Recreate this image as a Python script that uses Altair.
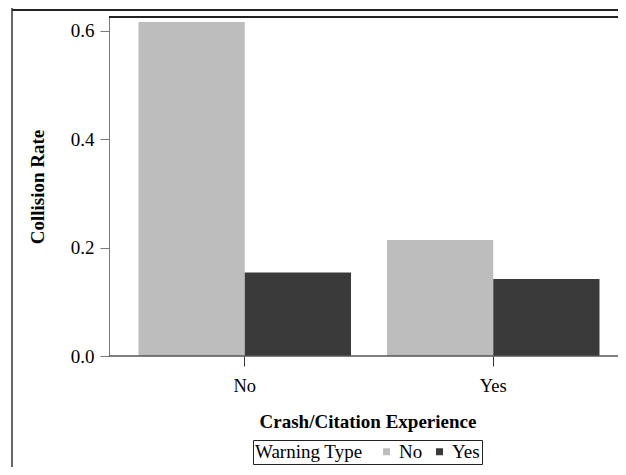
import altair as alt
import pandas as pd

# Data
experience = ["No", "No", "Yes", "Yes"]
warning = ["No", "Yes", "No", "Yes"]
rate = [0.616, 0.154, 0.214, 0.142]

warning_levels = ["No", "Yes"]
warning_colors = ["#bdbdbd", "#3a3a3a"]
y_ticks = [0.0, 0.2, 0.4, 0.6]

df = pd.DataFrame({"Experience": experience, "Warning": warning, "Rate": rate})
one = pd.DataFrame({"k": [0]})

W = 509
H = 339
FONT = "Liberation Serif"

bars = alt.Chart(df).mark_bar().encode(
    x=alt.X(
        "Experience:N",
        scale=alt.Scale(paddingInner=0.1449, paddingOuter=0.0966, align=0.6146),
        axis=alt.Axis(
            title="Crash/Citation Experience",
            labelAngle=0,
            domain=False,
            tickSize=10,
            tickColor="#333333",
            labelPadding=10,
            labelFont=FONT,
            labelFontSize=18.5,
            labelColor="#000000",
            titleFont=FONT,
            titleFontSize=19,
            titleFontWeight="bold",
            titleColor="#000000",
            titleX=258.5,
            titleY=71,
            titleBaseline="alphabetic",
        ),
    ),
    xOffset=alt.XOffset(
        "Warning:N",
        scale=alt.Scale(domain=warning_levels, paddingInner=0, paddingOuter=0),
    ),
    y=alt.Y(
        "Rate:Q",
        scale=alt.Scale(domain=[0, 0.625], nice=False, zero=True),
        axis=alt.Axis(
            title="Collision Rate",
            values=y_ticks,
            format=".1f",
            grid=False,
            domainColor="#7a7a7a",
            tickColor="#7a7a7a",
            tickSize=9,
            labelPadding=6,
            labelFont=FONT,
            labelFontSize=19,
            labelColor="#000000",
            titleFont=FONT,
            titleFontSize=19,
            titleFontWeight="bold",
            titleColor="#000000",
            titleAngle=270,
            titleX=-66,
            titleY=169.5,
            titleBaseline="alphabetic",
        ),
    ),
    color=alt.Color(
        "Warning:N",
        scale=alt.Scale(domain=warning_levels, range=warning_colors),
        legend=alt.Legend(
            title="Warning Type",
            orient="none",
            legendX=144,
            legendY=423,
            direction="horizontal",
            titleOrient="left",
            titleFont=FONT,
            titleFontSize=19,
            titleFontWeight="normal",
            titleColor="#000000",
            titlePadding=14,
            labelFont=FONT,
            labelFontSize=19,
            labelColor="#000000",
            labelOffset=3,
            symbolType="square",
            symbolSize=49,
            symbolStrokeWidth=0,
            columnPadding=7,
            padding=2,
            strokeColor="#222222",
            fillColor="#ffffff",
        ),
    ),
)

# frame lines (pixel positions relative to the plot area)
top_inner = alt.Chart(one).mark_rule(color="#222222", strokeWidth=2).encode(
    x=alt.value(0), x2=alt.value(W + 20), y=alt.value(0)
)
bottom_axis = alt.Chart(one).mark_rule(color="#555555", strokeWidth=1.5).encode(
    x=alt.value(0), x2=alt.value(W + 20), y=alt.value(H)
)
outer_top = alt.Chart(one).mark_rule(color="#222222", strokeWidth=2).encode(
    x=alt.value(-97), x2=alt.value(W + 20), y=alt.value(-7)
)
outer_left = alt.Chart(one).mark_rule(color="#333333", strokeWidth=1.5).encode(
    x=alt.value(-97), y=alt.value(-9), y2=alt.value(H + 120)
)

chart = (
    alt.layer(bars, top_inner, bottom_axis, outer_top, outer_left)
    .properties(
        width=W,
        height=H,
        autosize=alt.AutoSizeParams(type="none"),
        padding={"left": 101, "top": 9, "right": 0, "bottom": 111},
        background="#ffffff",
    )
    .configure_view(strokeWidth=0)
)

chart.save("out.html", embed_options={"renderer": "svg", "actions": False})
